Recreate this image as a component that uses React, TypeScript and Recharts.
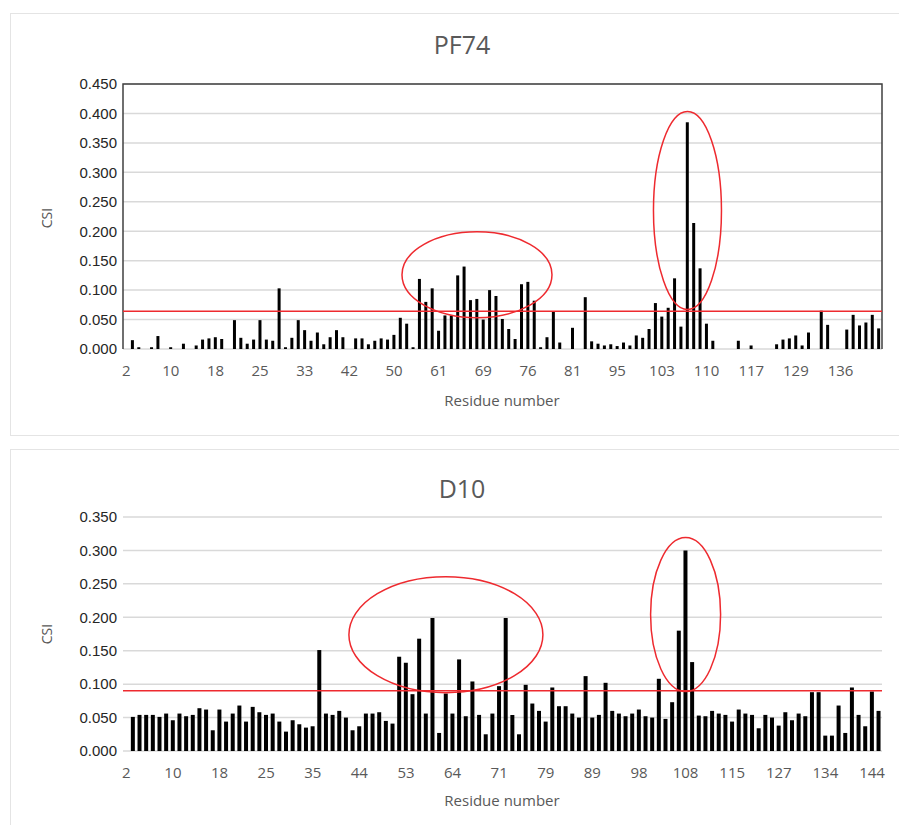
import {
  Bar,
  BarChart,
  CartesianGrid,
  ReferenceArea,
  ReferenceDot,
  ReferenceLine,
  XAxis,
  YAxis,
} from "recharts";

// PF74 panel: CSI per residue, in axis order (residue 2 first)
const pf74Csi = [
  0, 0.015, 0.003, 0, 0.003, 0.022, 0, 0.003, 0, 0.009,
  0, 0.006, 0.016, 0.018, 0.02, 0.017, 0, 0.049, 0.019, 0.009,
  0.016, 0.049, 0.016, 0.014, 0.103, 0.003, 0.019, 0.049, 0.032, 0.014,
  0.028, 0.008, 0.02, 0.032, 0.02, 0, 0.018, 0.018, 0.008, 0.014,
  0.018, 0.016, 0.024, 0.053, 0.043, 0.003, 0.119, 0.08, 0.103, 0.031,
  0.057, 0.057, 0.125, 0.14, 0.083, 0.085, 0.05, 0.1, 0.09, 0.051,
  0.034, 0.017, 0.11, 0.114, 0.082, 0.003, 0.02, 0.064, 0.011, 0,
  0.036, 0, 0.088, 0.013, 0.009, 0.006, 0.008, 0.005, 0.011, 0.006,
  0.023, 0.019, 0.034, 0.078, 0.055, 0.07, 0.12, 0.038, 0.385, 0.214,
  0.137, 0.043, 0.014, 0, 0, 0, 0.014, 0, 0.006, 0,
  0, 0, 0.008, 0.016, 0.018, 0.023, 0.006, 0.028, 0, 0.065,
  0.041, 0, 0, 0.033, 0.058, 0.04, 0.045, 0.058, 0.035,
];
const pf74Ticks = [2, 10, 18, 25, 33, 42, 50, 61, 69, 76, 81, 95, 103, 110, 117, 129, 136];

// D10 panel
const d10Csi = [
  0, 0.051, 0.054, 0.054, 0.054, 0.051, 0.056, 0.046, 0.056, 0.052,
  0.054, 0.064, 0.062, 0.031, 0.062, 0.044, 0.056, 0.068, 0.044, 0.066,
  0.058, 0.054, 0.056, 0.044, 0.029, 0.046, 0.04, 0.035, 0.037, 0.151,
  0.056, 0.054, 0.06, 0.05, 0.031, 0.037, 0.056, 0.056, 0.058, 0.045,
  0.041, 0.141, 0.132, 0.085, 0.168, 0.056, 0.199, 0.027, 0.086, 0.056,
  0.137, 0.052, 0.104, 0.054, 0.025, 0.056, 0.097, 0.199, 0.054, 0.025,
  0.099, 0.071, 0.06, 0.044, 0.095, 0.067, 0.067, 0.056, 0.05, 0.112,
  0.05, 0.054, 0.102, 0.06, 0.056, 0.052, 0.056, 0.062, 0.052, 0.05,
  0.108, 0.048, 0.073, 0.18, 0.3, 0.133, 0.053, 0.052, 0.06, 0.056,
  0.054, 0.044, 0.062, 0.056, 0.054, 0.034, 0.054, 0.05, 0.038, 0.058,
  0.046, 0.056, 0.052, 0.088, 0.088, 0.023, 0.023, 0.068, 0.027, 0.095,
  0.054, 0.037, 0.089, 0.06,
];
const d10Ticks = [2, 10, 18, 25, 35, 44, 53, 64, 71, 79, 89, 98, 108, 115, 127, 134, 144];

const pf74YTicks = [0, 0.05, 0.1, 0.15, 0.2, 0.25, 0.3, 0.35, 0.4, 0.45];
const d10YTicks = [0, 0.05, 0.1, 0.15, 0.2, 0.25, 0.3, 0.35];

const pf74Threshold = 0.064;
const d10Threshold = 0.09;

// circled regions: [category index, CSI at centre, rx px, ry px]
const pf74Circles = [
  [55, 0.126, 75, 43],
  [88, 0.235, 34, 99],
];
const d10Circles = [
  [48, 0.174, 97, 58],
  [84, 0.204, 35, 77],
];

const GRAY = "#595959";
const RED = "#ee2a2f";
const GRID = "#d9d9d9";
const FRAME = "#404040";

type PanelProps = {
  values: number[];
  ticks: number[];
  yTicks: number[];
  threshold: number;
  circles: number[][];
  height: number;
  margin: { top: number; right: number; bottom: number; left: number };
  gap: string;
  framed: boolean;
};

function Panel({ values, ticks, yTicks, threshold, circles, height, margin, gap, framed }: PanelProps) {
  const data = values.map((v, i) => ({ idx: i, csi: v }));
  const yMax = yTicks[yTicks.length - 1];
  return (
    <BarChart width={899} height={height} data={data} margin={margin} barCategoryGap={gap}>
      <CartesianGrid vertical={false} stroke={GRID} strokeWidth={1.5} />
      <XAxis
        dataKey="idx"
        interval={6}
        tickFormatter={(v: number) => (v % 7 === 0 ? String(ticks[v / 7] ?? "") : "")}
        tickLine={false}
        axisLine={false}
        tickSize={0}
        tickMargin={16}
        height={30}
        tick={{ fill: GRAY, fontSize: 15, fontFamily: "Open Sans" }}
      />
      <YAxis
        domain={[0, yMax]}
        ticks={yTicks}
        tickFormatter={(v: number) => v.toFixed(3)}
        width={60}
        tickLine={false}
        tickSize={0}
        tickMargin={6}
        axisLine={false}
        tick={{ fill: "#262626", fontSize: 15, fontFamily: "Liberation Sans" }}
      />
      <Bar dataKey="csi" fill="#000000" isAnimationActive={false} />
      {framed && (
        // plot-area frame: left, top and right edges
        <ReferenceArea
          x1={0}
          x2={values.length - 1}
          y1={0}
          y2={yMax}
          ifOverflow="visible"
          shape={(p: any) => (
            <path
              d={`M${p.x},${p.y + p.height}V${p.y}H${p.x + p.width}V${p.y + p.height}`}
              fill="none"
              stroke={FRAME}
              strokeWidth={1.5}
            />
          )}
        />
      )}
      <ReferenceLine y={threshold} stroke={RED} strokeWidth={1.5} ifOverflow="visible" />
      {circles.map(([x, y, rx, ry]) => (
        <ReferenceDot
          key={x}
          x={x}
          y={y}
          ifOverflow="visible"
          shape={(p: any) => (
            <ellipse cx={p.cx} cy={p.cy} rx={rx} ry={ry} fill="none" stroke={RED} strokeWidth={1.5} />
          )}
        />
      ))}
    </BarChart>
  );
}

const titleStyle: React.CSSProperties = {
  position: "absolute",
  left: 0,
  width: 924,
  textAlign: "center",
  fontFamily: "Open Sans",
  fontSize: 25,
  color: GRAY,
  lineHeight: "30px",
};

const axisTitle: React.CSSProperties = {
  position: "absolute",
  fontFamily: "Open Sans",
  fontSize: 15,
  color: GRAY,
  lineHeight: "20px",
};

const csiStyle: React.CSSProperties = {
  ...axisTitle,
  fontSize: 14,
  transform: "rotate(-90deg)",
  transformOrigin: "center",
  width: 40,
  textAlign: "center",
};

export default function App() {
  return (
    <div style={{ position: "absolute", left: 0, top: 0, width: 899, height: 825, overflow: "hidden", background: "#fff" }}>
      <div style={{ position: "absolute", left: 10, top: 13, width: 900, height: 421, border: "1.5px solid #e4e4e4" }} />
      <div style={{ position: "absolute", left: 10, top: 449, width: 900, height: 400, border: "1.5px solid #e4e4e4" }} />

      <div style={{ position: "absolute", left: 0, top: 0 }}>
        <Panel
          values={pf74Csi}
          ticks={pf74Ticks}
          yTicks={pf74YTicks}
          threshold={pf74Threshold}
          circles={pf74Circles}
          height={436}
          margin={{ top: 84, right: 17, bottom: 57, left: 63 }}
          gap="24%"
          framed
        />
      </div>
      <div style={{ position: "absolute", left: 0, top: 449 }}>
        <Panel
          values={d10Csi}
          ticks={d10Ticks}
          yTicks={d10YTicks}
          threshold={d10Threshold}
          circles={d10Circles}
          height={376}
          margin={{ top: 68, right: 17, bottom: 44, left: 63 }}
          gap="18%"
          framed={false}
        />
      </div>

      <div style={{ ...titleStyle, top: 29 }}>PF74</div>
      <div style={{ ...titleStyle, top: 473 }}>D10</div>

      <div style={{ ...axisTitle, left: 0, width: 1004, textAlign: "center", top: 390 }}>Residue number</div>
      <div style={{ ...axisTitle, left: 0, width: 1004, textAlign: "center", top: 790 }}>Residue number</div>

      <div style={{ ...csiStyle, left: 27, top: 208 }}>CSI</div>
      <div style={{ ...csiStyle, left: 27, top: 624 }}>CSI</div>
    </div>
  );
}
